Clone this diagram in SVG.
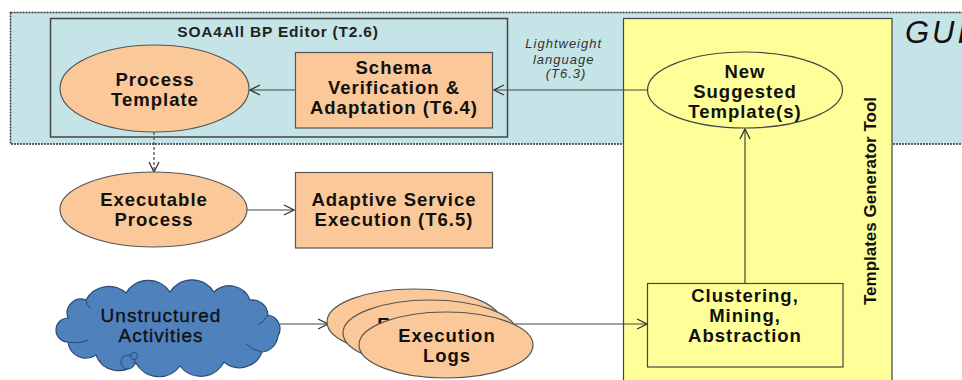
<svg xmlns="http://www.w3.org/2000/svg" width="962" height="380" viewBox="0 0 962 380">
  <defs>
    <marker id="open" markerUnits="userSpaceOnUse" markerWidth="12" markerHeight="12" refX="11" refY="6" orient="auto">
      <path d="M1,1 L11,6 L1,11" fill="none" stroke="#333" stroke-width="1.3"/>
    </marker>
    <style>
      .lbl { font-family: "Liberation Sans", Arial, sans-serif; font-weight: bold; font-size: 18.5px; letter-spacing: 1px; fill: #111; text-anchor: middle; }
      .orange { fill: #FBC999; stroke: #555; stroke-width: 1.2; }
      .yellow { fill: #FFFF99; stroke: #444; stroke-width: 1.2; }
      .conn { fill: none; stroke: #444; stroke-width: 1.2; marker-end: url(#open); }
    </style>
  </defs>

  <rect width="962" height="380" fill="#fff"/>

  <!-- GUI layer band -->
  <g id="gui">
    <rect x="10.5" y="12.5" width="960" height="131.5" fill="#C5E4E7" stroke="#333" stroke-width="1.5" stroke-dasharray="2 1"/>
    <text x="905" y="43" font-family="Liberation Sans, Arial, sans-serif" font-style="italic" font-size="31" letter-spacing="3" fill="#111">GUI</text>
  </g>

  <!-- BP editor container -->
  <g id="bp-editor">
    <rect x="50.5" y="18.5" width="457" height="118.5" fill="#C5E4E7" stroke="#444" stroke-width="1.5"/>
    <text x="278" y="37" font-family="Liberation Sans, Arial, sans-serif" font-weight="bold" font-size="15.5" letter-spacing="0.8" fill="#222" text-anchor="middle">SOA4All BP Editor (T2.6)</text>
  </g>

  <!-- Templates generator tool container -->
  <g id="generator-tool">
    <rect x="623.5" y="18.5" width="268.5" height="370" class="yellow"/>
    <text transform="translate(876 201) rotate(-90)" font-family="Liberation Sans, Arial, sans-serif" font-weight="bold" font-size="17" fill="#111" text-anchor="middle">Templates Generator Tool</text>
  </g>

  <!-- connectors -->
  <g id="connectors">
    <line x1="295" y1="90" x2="250" y2="90" class="conn"/>
    <line x1="647" y1="90" x2="494" y2="90" class="conn" stroke="#666"/>
    <line x1="154" y1="132" x2="154" y2="172" class="conn" stroke-dasharray="3 2"/>
    <line x1="247" y1="210" x2="294" y2="210" class="conn" stroke-width="2"/>
    <line x1="280" y1="324" x2="328" y2="324" class="conn"/>
    <line x1="505" y1="324" x2="647" y2="324" class="conn" stroke-width="2"/>
    <line x1="745" y1="283" x2="745" y2="129" class="conn"/>
    <text font-family="Liberation Sans, Arial, sans-serif" font-style="italic" font-size="13" letter-spacing="1" fill="#333" text-anchor="middle">
      <tspan x="566" y="48">Lightweight</tspan>
      <tspan x="566" y="64">language</tspan>
      <tspan x="566" y="78">(T6.3)</tspan>
    </text>
  </g>

  <!-- nodes -->
  <g id="process-template">
    <ellipse cx="154.5" cy="88.5" rx="94.5" ry="43.5" class="orange"/>
    <text class="lbl"><tspan x="155" y="86">Process</tspan><tspan x="155" y="106">Template</tspan></text>
  </g>

  <g id="schema-verification">
    <rect x="295.5" y="52.5" width="197" height="75.5" class="orange" stroke="#444" stroke-width="1.5"/>
    <text class="lbl"><tspan x="394" y="74">Schema</tspan><tspan x="394" y="94">Verification &amp;</tspan><tspan x="394" y="114">Adaptation (T6.4)</tspan></text>
  </g>

  <g id="new-suggested">
    <ellipse cx="745" cy="90" rx="97.5" ry="38" fill="#FFFF99" stroke="#444" stroke-width="1.2"/>
    <text class="lbl"><tspan x="745" y="78">New</tspan><tspan x="745" y="98">Suggested</tspan><tspan x="745" y="118">Template(s)</tspan></text>
  </g>

  <g id="executable-process">
    <ellipse cx="153.5" cy="209.5" rx="93.5" ry="37.5" class="orange"/>
    <text class="lbl"><tspan x="154" y="206">Executable</tspan><tspan x="154" y="226">Process</tspan></text>
  </g>

  <g id="adaptive-execution">
    <rect x="295.5" y="172.5" width="197" height="75.5" class="orange" stroke="#444" stroke-width="1.5"/>
    <text class="lbl"><tspan x="394" y="206">Adaptive Service</tspan><tspan x="394" y="226">Execution (T6.5)</tspan></text>
  </g>

  <g id="unstructured-activities">
    <path d="M68,318 A14,14 0 0 1 86,300 A26,26 0 0 1 126,293 A26,26 0 0 1 170,292 A26,26 0 0 1 214,292 A22,22 0 0 1 250,300 A16,16 0 0 1 268,315 A14,14 0 0 1 278,336 A18,18 0 0 1 262,352 A24,24 0 0 1 224,362 A26,26 0 0 1 180,366 A26,26 0 0 1 136,363 A24,24 0 0 1 96,355 A18,18 0 0 1 68,342 A10,10 0 0 1 68,318 Z" fill="#4F81BD" stroke="#2B4A70" stroke-width="1.2"/>
    <path d="M68,342 Q80,344 88,340 M262,352 Q252,350 246,344 M268,315 Q264,322 258,325 M86,300 Q86,305 90,308" fill="none" stroke="#2B4A70" stroke-width="1"/>
    <circle cx="128" cy="362" r="7" fill="#4F81BD" stroke="#2B4A70" stroke-width="1"/>
    <circle cx="134" cy="356" r="3.5" fill="#4F81BD" stroke="#2B4A70" stroke-width="1"/>
    <text font-family="Liberation Sans, Arial, sans-serif" font-size="19" letter-spacing="1" fill="#111" stroke="#111" stroke-width="0.35" text-anchor="middle"><tspan x="161" y="322">Unstructured</tspan><tspan x="161" y="342">Activities</tspan></text>
  </g>

  <g id="execution-logs">
    <ellipse cx="414" cy="322" rx="87" ry="33" class="orange"/>
    <ellipse cx="430" cy="333" rx="87" ry="33" class="orange"/>
    <text class="lbl" x="384" y="331" text-anchor="start">E</text>
    <ellipse cx="446" cy="345" rx="87" ry="33" class="orange"/>
    <text class="lbl"><tspan x="447" y="342">Execution</tspan><tspan x="447" y="362">Logs</tspan></text>
  </g>

  <g id="clustering">
    <rect x="647.5" y="283.5" width="195.5" height="83.5" class="yellow"/>
    <text class="lbl"><tspan x="745" y="302">Clustering,</tspan><tspan x="745" y="322">Mining,</tspan><tspan x="745" y="342">Abstraction</tspan></text>
  </g>
</svg>
